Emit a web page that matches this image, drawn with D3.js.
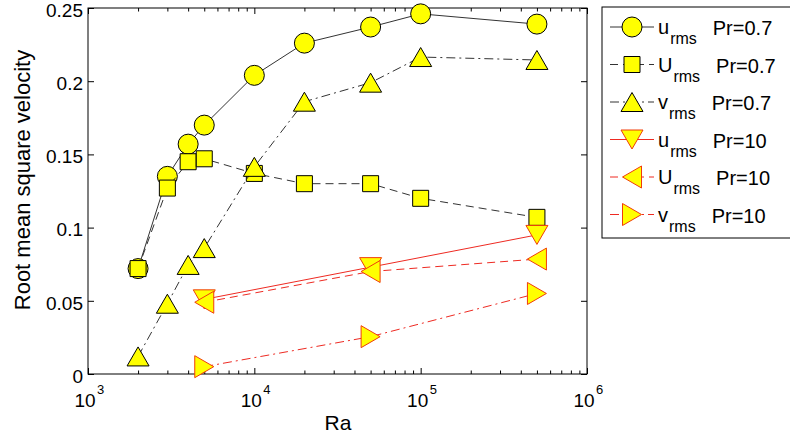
<!DOCTYPE html>
<html>
<head>
<meta charset="utf-8">
<script src="https://cdn.jsdelivr.net/npm/d3@7"></script>
<style>
  body { margin: 0; background: #fff; }
  svg { display: block; font-family: "Liberation Sans", Arial, Helvetica, sans-serif; }
</style>
</head>
<body>
<script>
// Rayleigh numbers
const raLow = [2000, 3000, 4000, 5000, 10000, 20000, 50000, 100000, 500000];
const raHigh = [5000, 50000, 500000];

// Pr = 0.7
const uRms07 = [0.072, 0.135, 0.157, 0.170, 0.204, 0.226, 0.237, 0.246, 0.239];
const bigURms07 = [0.072, 0.127, 0.145, 0.147, 0.137, 0.130, 0.130, 0.120, 0.107];
const vRms07 = [0.012, 0.048, 0.0745, 0.086, 0.1415, 0.186, 0.199, 0.2165, 0.2145];

// Pr = 10
const uRms10 = [0.051, 0.073, 0.095];
const bigURms10 = [0.049, 0.070, 0.0785];
const vRms10 = [0.005, 0.0255, 0.055];

// ticks
const yTicks = [0, 0.05, 0.1, 0.15, 0.2, 0.25];
const yTickLabels = ["0", "0.05", "0.1", "0.15", "0.2", "0.25"];
const xTicks = [1e3, 1e4, 1e5, 1e6];
const xTickExp = ["3", "4", "5", "6"];

const width = 790, height = 439;
const pLeft = 88, pRight = 587, pTop = 8, pBottom = 374;

const svg = d3.select("body").append("svg")
    .attr("width", width)
    .attr("height", height);

const x = d3.scaleLog().domain([1e3, 1e6]).range([pLeft, pRight]);
const y = d3.scaleLinear().domain([0, 0.25]).range([pBottom, pTop]);

const black = "#333", red = "#ee2a22", redEdge = "#f03c0a", yellow = "#ffff00";

// marker path builders (size in px)
function markerPath(type) {
  if (type === "circle") return d3.symbol(d3.symbolCircle, Math.PI * 100)();
  if (type === "square") return "M-8,-8H8V8H-8Z";
  if (type === "up") return "M0,-9.5L11,9.5L-11,9.5Z";
  if (type === "down") return "M0,9.5L11,-9.5L-11,-9.5Z";
  if (type === "left") return "M-9.5,0L9.5,-11L9.5,11Z";
  if (type === "right") return "M9.5,0L-9.5,-11L-9.5,11Z";
}

const series = [
  {ra: raLow, v: uRms07, letter: "u", pr: "Pr=0.7", marker: "circle", line: black, edge: "#000", dash: null},
  {ra: raLow, v: bigURms07, letter: "U", pr: "Pr=0.7", marker: "square", line: black, edge: "#000", dash: "8,5"},
  {ra: raLow, v: vRms07, letter: "v", pr: "Pr=0.7", marker: "up", line: black, edge: "#000", dash: "9,4,2,4"},
  {ra: raHigh, v: uRms10, letter: "u", pr: "Pr=10", marker: "down", line: red, edge: redEdge, dash: null},
  {ra: raHigh, v: bigURms10, letter: "U", pr: "Pr=10", marker: "left", line: red, edge: redEdge, dash: "8,5"},
  {ra: raHigh, v: vRms10, letter: "v", pr: "Pr=10", marker: "right", line: red, edge: redEdge, dash: "9,4,2,4"}
];

// axes: ticks pointing inward on all four sides
function styleAxis(g) {
  g.select(".domain").remove();
  g.selectAll("line").attr("stroke", "#000");
  g.selectAll("text").remove();
}
const minorX = x.ticks().filter(d => xTicks.indexOf(d) < 0);

svg.append("g").attr("transform", `translate(0,${pBottom})`)
  .call(d3.axisBottom(x).tickValues(xTicks).tickSizeInner(-6).tickSizeOuter(0)).call(styleAxis);
svg.append("g").attr("transform", `translate(0,${pBottom})`)
  .call(d3.axisBottom(x).tickValues(minorX).tickSizeInner(-3.5).tickSizeOuter(0)).call(styleAxis);
svg.append("g").attr("transform", `translate(0,${pTop})`)
  .call(d3.axisTop(x).tickValues(xTicks).tickSizeInner(-6).tickSizeOuter(0)).call(styleAxis);
svg.append("g").attr("transform", `translate(0,${pTop})`)
  .call(d3.axisTop(x).tickValues(minorX).tickSizeInner(-3.5).tickSizeOuter(0)).call(styleAxis);
svg.append("g").attr("transform", `translate(${pLeft},0)`)
  .call(d3.axisLeft(y).tickValues(yTicks).tickSizeInner(-6).tickSizeOuter(0)).call(styleAxis);
svg.append("g").attr("transform", `translate(${pRight},0)`)
  .call(d3.axisRight(y).tickValues(yTicks).tickSizeInner(-6).tickSizeOuter(0)).call(styleAxis);

svg.append("rect")
  .attr("x", pLeft).attr("y", pTop)
  .attr("width", pRight - pLeft).attr("height", pBottom - pTop)
  .attr("fill", "none").attr("stroke", "#000").attr("stroke-width", 1);

// tick labels
svg.append("g").selectAll("text")
  .data(yTicks)
  .enter()
  .append("text")
  .attr("x", pLeft - 5)
  .attr("y", d => y(d) + 2)
  .attr("dy", "0.36em")
  .attr("text-anchor", "end")
  .attr("font-size", 19)
  .text((d, i) => yTickLabels[i]);

const xl = svg.append("g").selectAll("g")
  .data(xTicks)
  .enter()
  .append("g")
  .attr("transform", d => `translate(${x(d)},0)`);
xl.append("text")
  .attr("x", -3).attr("y", 407)
  .attr("text-anchor", "middle")
  .attr("font-size", 19)
  .text("10");
xl.append("text")
  .attr("x", 9).attr("y", 394)
  .attr("font-size", 13)
  .text((d, i) => xTickExp[i]);

// axis titles
svg.append("text")
  .attr("x", 338).attr("y", 430)
  .attr("text-anchor", "middle")
  .attr("font-size", 21)
  .text("Ra");
svg.append("text")
  .attr("transform", "translate(30,180) rotate(-90)")
  .attr("text-anchor", "middle")
  .attr("font-size", 22)
  .text("Root mean square velocity");

// series
const line = d3.line();
series.forEach(s => {
  const pts = s.ra.map((r, i) => [x(r), y(s.v[i])]);
  svg.append("path")
    .attr("d", line(pts))
    .attr("fill", "none")
    .attr("stroke", s.line)
    .attr("stroke-width", 1)
    .attr("stroke-dasharray", s.dash);
  svg.append("g").selectAll("path")
    .data(pts)
    .enter()
    .append("path")
    .attr("transform", d => `translate(${d[0]},${d[1]})`)
    .attr("d", markerPath(s.marker))
    .attr("fill", yellow)
    .attr("stroke", s.edge)
    .attr("stroke-width", 1);
});

// legend
const lg = svg.append("g");
lg.append("rect")
  .attr("x", 602).attr("y", 7)
  .attr("width", 200).attr("height", 231)
  .attr("fill", "#fff").attr("stroke", "#000");

series.forEach((s, i) => {
  const cy = 27 + i * 37.5;
  lg.append("line")
    .attr("x1", 610).attr("x2", 654)
    .attr("y1", cy).attr("y2", cy)
    .attr("stroke", s.line)
    .attr("stroke-dasharray", s.dash);
  lg.append("path")
    .attr("transform", `translate(632,${cy})`)
    .attr("d", markerPath(s.marker))
    .attr("fill", yellow)
    .attr("stroke", s.edge);
  const t1 = lg.append("text")
    .attr("x", 658).attr("y", cy + 7)
    .attr("font-size", 20)
    .text(s.letter);
  const w1 = t1.node().getComputedTextLength();
  const t2 = lg.append("text")
    .attr("x", 658 + w1 + 1).attr("y", cy + 17)
    .attr("font-size", 16)
    .text("rms");
  const w2 = t2.node().getComputedTextLength();
  lg.append("text")
    .attr("x", 658 + w1 + 1 + w2 + 16).attr("y", cy + 8)
    .attr("font-size", 20)
    .text(s.pr);
});
</script>
</body>
</html>
